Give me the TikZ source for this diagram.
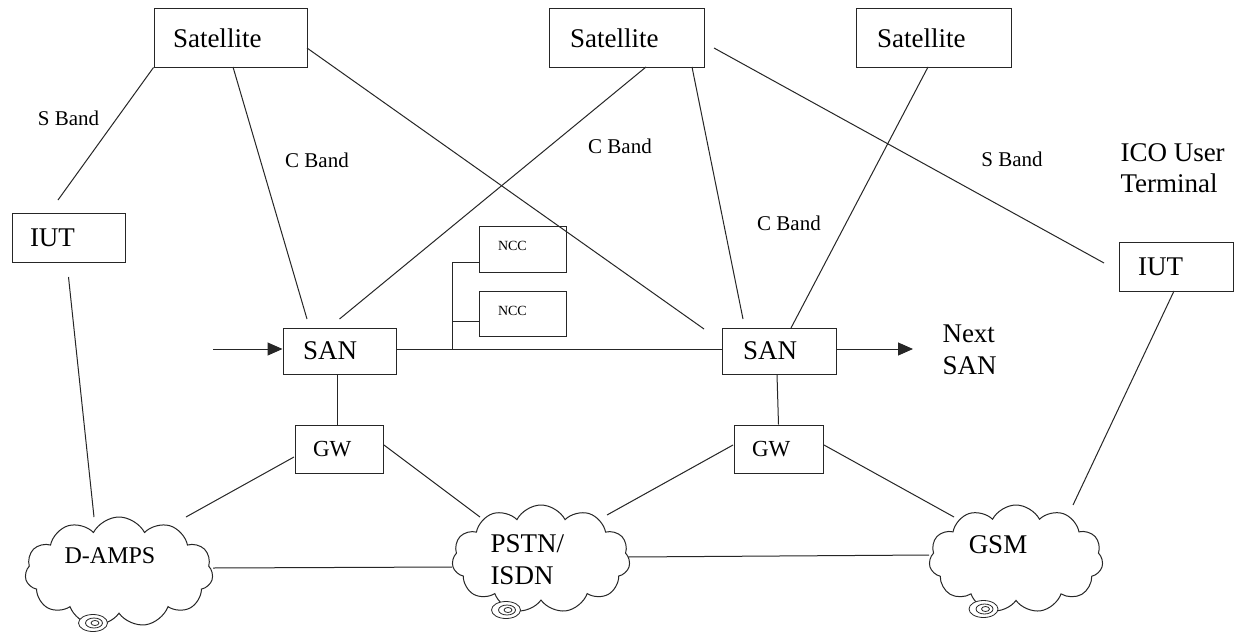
\documentclass[tikz,border=0pt]{standalone}
\usepackage{fontspec}
\setmainfont{Liberation Serif}
\usetikzlibrary{shapes.symbols,arrows.meta,calc}
\begin{document}
\begin{tikzpicture}[x=1pt,y=-1pt,line width=1pt,draw=black!85,
  bx/.style 2 args={draw,rectangle,text width=#1,inner xsep=#2,inner ysep=0pt,align=left},
  big/.style={font=\fontsize{27}{32}\selectfont},
  mid/.style={font=\fontsize{23}{28}\selectfont},
  band/.style={font=\fontsize{21}{25}\selectfont,inner sep=0pt},
  tiny/.style={font=\fontsize{14}{16}\selectfont},
  cloudst/.style={draw,cloud,cloud puffs=11,cloud puff arc=125,inner sep=0pt},
  lbl/.style={inner sep=0pt,align=left},
  tip/.style={-{Triangle[length=15pt,width=13pt]}},
  link/.style={line width=1pt}]
\useasboundingbox[fill=white] (0,0) rectangle (1241,634);

% boxes
\node[bx={115pt}{19pt},big,minimum height=58pt] (sat1) at (230.5,38) {Satellite};
\node[bx={113pt}{21pt},big,minimum height=58pt] (sat2) at (626.5,38) {Satellite};
\node[bx={113pt}{21pt},big,minimum height=58pt] (sat3) at (933.5,38) {Satellite};
\node[bx={77pt}{18pt},big,minimum height=49pt] (iutl) at (68.5,237.5) {\raisebox{-3pt}{IUT}};
\node[bx={76pt}{19pt},big,minimum height=49pt] (iutr) at (1176,266.5) {\raisebox{-3pt}{IUT}};
\node[bx={73pt}{20pt},big,minimum height=46pt] (san1) at (339.5,351) {\raisebox{-5pt}{SAN}};
\node[bx={72pt}{21pt},big,minimum height=46pt] (san2) at (779,351) {\raisebox{-5pt}{SAN}};
\node[bx={52pt}{18pt},mid,minimum height=48pt] (gw1) at (339,449) {GW};
\node[bx={53pt}{18pt},mid,minimum height=48pt] (gw2) at (778.5,449) {GW};
\node[bx={49pt}{19pt},tiny,minimum height=46pt] (ncc1) at (522.5,249) {\raisebox{6pt}{NCC}};
\node[bx={49pt}{19pt},tiny,minimum height=45pt] (ncc2) at (522.5,313.5) {\raisebox{5pt}{NCC}};

% clouds
\node[cloudst,minimum width=188pt,minimum height=110pt] (damps) at (119,572) {};
\node[cloudst,minimum width=178pt,minimum height=108pt] (pstn) at (541,559) {};
\node[cloudst,minimum width=174pt,minimum height=108pt] (gsm) at (1016,559) {};
\node[lbl,font=\fontsize{24}{28}\selectfont] (dampst) at (110,556) {D-AMPS};
\node[lbl,big,anchor=west] (pstnt) at (490,560) {PSTN/\\ISDN};
\node[lbl,big] (gsmt) at (998,545) {GSM};

% handset marks
\foreach \c/\x/\y in {a/93/623,b/506/610,c/983.5/609}{
  \draw[fill=white,line width=0.8pt] (\x,\y) ellipse [x radius=14.5,y radius=8.5];
  \draw[line width=0.8pt] (\x+1,\y) ellipse [x radius=8.5,y radius=5];
  \draw[line width=0.8pt] (\x+2,\y) ellipse [x radius=4,y radius=2.5];
}

% labels
\node[band] (sb1) at (68.5,118) {S Band};
\node[band] (cb1) at (317,160) {C Band};
\node[band] (cb2) at (620,146) {C Band};
\node[band] (cb3) at (789,223) {C Band};
\node[band] (sb2) at (1012,159) {S Band};
\node[lbl,big,anchor=west] (nexts) at (942,350) {Next\\SAN};
\node[lbl,font=\fontsize{27}{31}\selectfont,anchor=west] (ico) at (1120,168) {ICO User\\Terminal};

% satellite links
\draw[link] (sat1.south west) -- ($(iutl)+(-10.5,-37.5)$);
\draw[link] ($(sat1)+(2.5,29)$) -- ($(san1)+(-32.5,-32)$);
\draw[link] ($(sat1)+(76.5,10)$) -- ($(san2)+(-75,-22)$);
\draw[link] ($(sat2)+(19.5,29)$) -- ($(san1)+(0,-32)$);
\draw[link] ($(sat2)+(65.5,29)$) -- ($(san2)+(-36,-32)$);
\draw[link] ($(sat2)+(87.5,10)$) -- ($(iutr)+(-72,-3.5)$);
\draw[link] ($(sat3)+(-5.5,29)$) -- ($(san2)+(12,-23)$);

% terminal links
\draw[link] ($(iutl)+(0,39.5)$) -- ($(damps)+(-25,-55)$);
\draw[link] ($(iutr)+(-2,24.5)$) -- ($(gsm)+(57,-54)$);

% SAN / GW
\coordinate (in) at (213,349);
\coordinate (out) at (913,349);
\draw[link,tip] (in) -- ($(san1.west)+(0,-2)$);
\draw[link,tip] ($(san2.east)+(0,-2)$) -- (out);
\draw[link] ($(san1.east)+(0,-2)$) -- ($(san2.west)+(0,-2)$);
\coordinate (br) at (452,349);
\draw[link] (br) |- ($(ncc1.west)+(0,13)$);
\draw[link] ($(br)+(0,-28)$) -- ($(ncc2.west)+(0,7.5)$);
\draw[link] ($(san1.south)+(-2.5,0)$) -- ($(gw1.north)+(-2,0)$);
\draw[link] ($(san2.south)+(-2,0)$) -- (gw2.north);

% GW to networks
\draw[link] ($(gw1)+(-45,8)$) -- ($(damps)+(67,-55)$);
\draw[link] ($(gw1)+(45,-4)$) -- ($(pstn)+(-61,-42)$);
\draw[link] ($(gw2)+(-45.5,-4)$) -- ($(pstn)+(66,-44)$);
\draw[link] ($(gw2)+(45.5,-4)$) -- ($(gsm)+(-62,-42)$);

% network interconnect
\draw[link] ($(damps)+(94,-4)$) -- ($(pstn)+(-89,8)$);
\draw[link] ($(pstn)+(87,-2)$) -- ($(gsm)+(-87,-4)$);
\end{tikzpicture}
\end{document}
